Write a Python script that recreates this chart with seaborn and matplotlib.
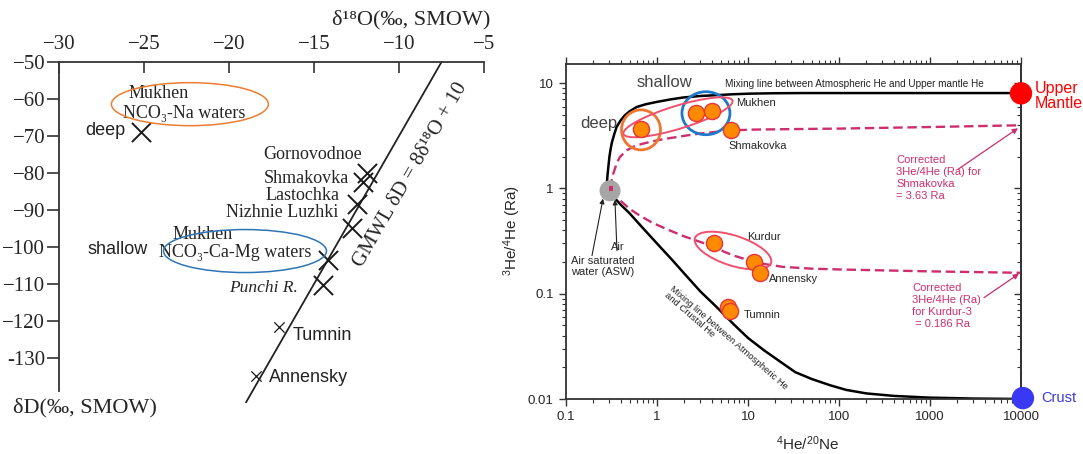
import numpy as np
import pandas as pd
import matplotlib
matplotlib.use("Agg")
import matplotlib.pyplot as plt
import seaborn as sns
from matplotlib.patches import Ellipse
from matplotlib.transforms import ScaledTranslation
from matplotlib.ticker import NullFormatter

# ---------------- data: left panel (dD vs d18O) ----------------
big_d18O = [-25.2, -11.9, -12.1, -12.45, -12.75, -14.2, -14.45]
big_dD = [-69.0, -80.0, -82.5, -88.5, -95.0, -103.5, -110.3]
small_d18O = [-17.05, -18.4]
small_dD = [-121.6, -135.0]
gmwl_d18O = [-19.0, -7.5]
gmwl_dD = [-142.0, -50.0]
left_xticks = [-30, -25, -20, -15, -10, -5]
left_yticks = [-130, -120, -110, -100, -90, -80, -70, -60, -50]
left_ylabels = ["-130", "\u2212120", "\u2212110", "\u2212100", "\u221290",
                "\u221280", "\u221270", "\u221260", "\u221250"]

# ---------------- data: right panel (3He/4He vs 4He/20Ne) ----------------
site_he_ne = [0.667, 2.68, 4.02, 6.5, 4.23, 11.6, 13.5, 6.0, 6.3]
site_ra = [3.65, 5.18, 5.4, 3.56, 0.30, 0.20, 0.158, 0.075, 0.069]

# curves
mantle_mix_x = [0.28, 0.285, 0.292, 0.30, 0.31, 0.32, 0.34, 0.36, 0.40, 0.445, 0.5, 0.6,
                0.75, 1.0, 1.4, 1.95, 3.0, 4.5, 7.0, 10.5, 20, 40, 10000]
mantle_mix_y = [1.03, 1.3, 1.6, 2.0, 2.4, 2.75, 3.3, 3.84, 4.45, 4.96, 5.4, 5.94,
                6.3, 6.64, 7.0, 7.31, 7.55, 7.69, 7.85, 7.95, 8.02, 8.05, 8.05]

crust_mix_x = [0.30, 0.33, 0.4, 0.5, 0.7, 1.0, 1.5, 2.0, 3.0, 4.5, 7.0, 10, 15, 22, 33,
               50, 80, 120, 200, 400, 1000, 3000, 10000]
crust_mix_y = [0.97, 0.84, 0.70, 0.58, 0.42, 0.30, 0.205, 0.155, 0.105, 0.075, 0.051,
               0.038, 0.029, 0.023, 0.018, 0.0155, 0.0135, 0.0122, 0.0113, 0.0107,
               0.0103, 0.0101, 0.0100]

shm_corr_x = [0.305, 0.31, 0.318, 0.33, 0.345, 0.365, 0.392, 0.43, 0.464, 0.53, 0.6, 0.75,
              0.91, 1.2, 1.51, 2.1, 2.96, 4.2, 5.8, 8.0, 11.4, 30, 100, 1000, 10000]
shm_corr_y = [1.0, 1.1, 1.19, 1.37, 1.54, 1.78, 1.99, 2.16, 2.30, 2.45, 2.57, 2.70,
              2.81, 2.95, 3.04, 3.18, 3.32, 3.43, 3.52, 3.58, 3.62, 3.66, 3.70, 3.83, 3.98]

kur_corr_x = [0.31, 0.34, 0.4, 0.5, 0.65, 0.9, 1.28, 2.0, 3.0, 4.2, 5.5, 7.0, 9.0, 11.6,
              16, 24, 50, 100, 1000, 10000]
kur_corr_y = [0.95, 0.86, 0.76, 0.64, 0.55, 0.47, 0.41, 0.35, 0.31, 0.28, 0.25, 0.23,
              0.215, 0.20, 0.19, 0.18, 0.173, 0.17, 0.163, 0.158]

air_x, air_y = [0.305], [0.95]
mantle_x, mantle_y = [10000], [8.0]
crust_x, crust_y = [10500], [0.0102]

right_xticks = [0.1, 1, 10, 100, 1000, 10000]
right_xlabels = ["0.1", "1", "10", "100", "1000", "10000"]
right_yticks = [0.01, 0.1, 1, 10]
right_ylabels = ["0.01", "0.1", "1", "10"]

DPI = 100
sns.set_style("ticks")
plt.rcParams["font.family"] = ["Liberation Sans", "DejaVu Sans"]
plt.rcParams["mathtext.default"] = "regular"

SERIF = ["Liberation Serif", "DejaVu Serif"]
SANS = ["Liberation Sans", "DejaVu Sans"]
MAG = "#CC2E6E"
PINK = "#F0506E"

fig = plt.figure(figsize=(10.83, 4.54), dpi=DPI)


def ring(ax, x, y, w, h, angle, color, lw):
    # ellipse sized in pixels, centred on a data point
    tr = fig.dpi_scale_trans + ScaledTranslation(x, y, ax.transData)
    ax.add_patch(Ellipse((0, 0), w / DPI, h / DPI, angle=angle, transform=tr,
                         fill=False, edgecolor=color, lw=lw, clip_on=False, zorder=4))


# =============== left panel ===============
ax1 = fig.add_axes([59 / 1083, 52 / 454, 425 / 1083, 340 / 454])
ax1.set_xlim(-30, -5)
ax1.set_ylim(-141.9, -50)
for s in ["right", "bottom"]:
    ax1.spines[s].set_visible(False)
for s in ["top", "left"]:
    ax1.spines[s].set_color("#333333")
    ax1.spines[s].set_linewidth(1.3)
ax1.spines["left"].set_bounds(-139, -50)

sns.lineplot(x=gmwl_d18O, y=gmwl_dD, ax=ax1, color="#222222", lw=1.3, sort=False, clip_on=False)
sns.scatterplot(x=big_d18O, y=big_dD, ax=ax1, marker="x", s=190, color="#1a1a1a", linewidth=1.4, zorder=3)
sns.scatterplot(x=small_d18O, y=small_dD, ax=ax1, marker="x", s=55, color="#1a1a1a", linewidth=0.9, zorder=3)

ax1.xaxis.tick_top()
ax1.set_xticks(left_xticks)
ax1.set_yticks(left_yticks)
ax1.set_yticklabels(left_ylabels)
ax1.tick_params(axis="x", direction="in", length=8, width=1.2, color="#333333",
                top=True, bottom=False, labeltop=True, labelbottom=False, pad=6, labelsize=15)
ax1.tick_params(axis="y", direction="out", length=9, width=1.2, color="#333333", pad=1, labelsize=15)
for lbl in ax1.get_xticklabels() + ax1.get_yticklabels():
    lbl.set_fontfamily(SERIF)
ax1.set_xlabel("")
ax1.set_ylabel("")

fig.text(411 / 1083, 1 - 20 / 454, "\u03b4\u00b9\u2078O(\u2030, SMOW)", family=SERIF, fontsize=16,
         ha="center", va="center")
fig.text(85 / 1083, 1 - 408 / 454, "\u03b4D(\u2030, SMOW)", family=SERIF, fontsize=16,
         ha="center", va="center")

ax1.text(-9.35, -80.5, "GMWL \u03b4D = 8\u03b4\u00b9\u2078O + 10", family=SERIF, fontsize=15,
         rotation=60, rotation_mode="anchor", ha="center", va="center")

ax1.text(-12.18, -75.1, "Gornovodnoe", family=SERIF, fontsize=13, ha="right", va="center")
ax1.text(-12.94, -81.4, "Shmakovka", family=SERIF, fontsize=13, ha="right", va="center")
ax1.text(-13.47, -86.2, "Lastochka", family=SERIF, fontsize=13, ha="right", va="center")
ax1.text(-13.59, -90.8, "Nizhnie Luzhki", family=SERIF, fontsize=13, ha="right", va="center")
ax1.text(-25.94, -58.4, "Mukhen", family=SERIF, fontsize=13, ha="left", va="center")
ax1.text(-26.24, -63.8, "NCO\u2083-Na waters", family=SERIF, fontsize=13, ha="left", va="center")
ax1.text(-23.3, -96.5, "Mukhen", family=SERIF, fontsize=13, ha="left", va="center")
ax1.text(-24.1, -101.6, "NCO\u2083-Ca-Mg waters", family=SERIF, fontsize=13, ha="left", va="center")
ax1.text(-15.94, -111.1, "Punchi R.", family=SERIF, fontsize=12.5, style="italic", ha="right", va="center")
ax1.text(-26.1, -68.4, "deep", family=SANS, fontsize=13, ha="right", va="center", color="#222222")
ax1.text(-24.76, -100.8, "shallow", family=SANS, fontsize=13, ha="right", va="center", color="#222222")
ax1.text(-16.24, -124.0, "Tumnin", family=SANS, fontsize=13, ha="left", va="center", color="#222222")
ax1.text(-17.65, -135.4, "Annensky", family=SANS, fontsize=13, ha="left", va="center", color="#222222")

ring(ax1, -22.3, -61.4, 157, 43, 0, "#ED7D31", 1.1)
ring(ax1, -19.06, -101.1, 163, 43, 0, "#2E75B6", 1.1)

# =============== right panel ===============
ax2 = fig.add_axes([566 / 1083, 55 / 454, 455 / 1083, 335 / 454])
ax2.set_xscale("log")
ax2.set_yscale("log")
ax2.set_xlim(0.1, 10000)
ax2.set_ylim(0.01, 15.2)
for s in ax2.spines.values():
    s.set_color("#333333")
    s.set_linewidth(1.3)

sns.lineplot(x=mantle_mix_x, y=mantle_mix_y, ax=ax2, color="black", lw=1.8, sort=False, zorder=2)
sns.lineplot(x=crust_mix_x, y=crust_mix_y, ax=ax2, color="black", lw=1.8, sort=False, zorder=2)
sns.lineplot(x=shm_corr_x, y=shm_corr_y, ax=ax2, color=MAG, lw=1.7, sort=False,
             linestyle=(0, (4, 2)), zorder=2)
sns.lineplot(x=kur_corr_x, y=kur_corr_y, ax=ax2, color=MAG, lw=1.7, sort=False,
             linestyle=(0, (4, 2)), zorder=2)

sns.scatterplot(x=air_x, y=air_y, ax=ax2, s=230, color="#A6A6A6", edgecolor="none", zorder=3, clip_on=False)
sns.scatterplot(x=[0.31], y=[1.0], ax=ax2, marker="s", s=10, color=MAG, edgecolor="none", zorder=4)
sns.scatterplot(x=site_he_ne, y=site_ra, ax=ax2, s=135, color="#FF8A00", edgecolor="#E8343A",
                linewidth=1.0, zorder=5)
sns.scatterplot(x=mantle_x, y=mantle_y, ax=ax2, s=260, color="#FF0000", edgecolor="none",
                zorder=6, clip_on=False)
sns.scatterplot(x=crust_x, y=crust_y, ax=ax2, s=260, color="#3838F5", edgecolor="none",
                zorder=6, clip_on=False)

ring(ax2, 0.667, 3.6, 39, 40, 0, "#EE7730", 2.0)
ring(ax2, 3.45, 5.18, 48, 43, 0, "#1F78C8", 2.0)
ring(ax2, 1.70, 4.74, 114, 23, 17, PINK, 1.4)
ring(ax2, 6.84, 0.257, 80, 30, -18, PINK, 1.4)

ax2.set_xticks(right_xticks)
ax2.set_xticklabels(right_xlabels)
ax2.set_yticks(right_yticks)
ax2.set_yticklabels(right_ylabels)
ax2.xaxis.set_minor_formatter(NullFormatter())
ax2.yaxis.set_minor_formatter(NullFormatter())
ax2.tick_params(which="major", direction="out", length=5, width=1.0, color="#333333", labelsize=9.5, pad=4)
ax2.tick_params(which="minor", direction="out", length=3, width=0.8, color="#333333")
ax2.tick_params(which="both", top=True, right=False)
sec = ax2.secondary_yaxis("right")
sec.tick_params(which="major", direction="in", length=5, width=1.0, color="#333333", labelright=False)
sec.tick_params(which="minor", direction="in", length=3, width=0.8, color="#333333", labelright=False)
sec.spines["right"].set_color("#333333")
sec.spines["right"].set_linewidth(1.3)

ax2.set_xlabel("$^{4}$He/$^{20}$Ne", fontsize=11)
ax2.set_ylabel("$^{3}$He/$^{4}$He (Ra)", fontsize=11)
ax2.xaxis.set_label_coords(0.532, -0.105)
ax2.yaxis.set_label_coords(-0.095, 0.504)

ax2.text(1.22, 10.2, "shallow", fontsize=12, color="#444444", ha="center", va="center")
ax2.text(0.231, 4.16, "deep", fontsize=12, color="#444444", ha="center", va="center")
ax2.text(5.58, 9.78, "Mixing line between Atmospheric He and Upper mantle He", fontsize=7.2,
         ha="left", va="center", color="#222222")
ax2.text(7.38, 6.45, "Mukhen", fontsize=8, ha="left", va="center")
ax2.text(6.18, 2.51, "Shmakovka", fontsize=8, ha="left", va="center")
ax2.text(9.75, 0.349, "Kurdur", fontsize=8, ha="left", va="center")
ax2.text(17.0, 0.139, "Annensky", fontsize=8, ha="left", va="center")
ax2.text(9.04, 0.063, "Tumnin", fontsize=8, ha="left", va="center")
ax2.text(0.372, 0.28, "Air", fontsize=8, ha="center", va="center")
ax2.text(0.255, 0.181, "Air saturated\nwater (ASW)", fontsize=8, ha="center", va="center",
         linespacing=1.1)
ax2.text(5.73, 0.0357, "Mixing line between Atmospheric He\nand Crustal He", fontsize=6.8,
         rotation=-41, rotation_mode="anchor", ha="center", va="center", multialignment="left",
         linespacing=1.0, color="#222222")
ax2.text(423, 2.06, "Corrected\n3He/4He (Ra) for\nShmakovka\n= 3.63 Ra", fontsize=8, color=MAG,
         ha="left", va="top", linespacing=1.25)
ax2.text(634, 0.127, "Corrected\n3He/4He (Ra)\nfor Kurdur-3\n = 0.186 Ra", fontsize=8, color=MAG,
         ha="left", va="top", linespacing=1.25)
ax2.text(14260, 7.52, "Upper\nMantle", fontsize=11.5, color="#FF0000", ha="left", va="center",
         linespacing=1.05)
ax2.text(16600, 0.0102, "Crust", fontsize=10.5, color="#3B3BD8", ha="left", va="center")

arrow = dict(arrowstyle="-|>", color="#222222", lw=0.8, mutation_scale=7, shrinkA=0, shrinkB=0)
ax2.annotate("", xy=(0.255, 0.80), xytext=(0.193, 0.23), arrowprops=arrow)
ax2.annotate("", xy=(0.345, 0.78), xytext=(0.363, 0.257), arrowprops=arrow)
arrow_m = dict(arrowstyle="-|>", color=MAG, lw=0.9, mutation_scale=8, shrinkA=0, shrinkB=0)
ax2.annotate("", xy=(9270, 3.73), xytext=(2030, 1.52), arrowprops=arrow_m)
ax2.annotate("", xy=(9500, 0.155), xytext=(3920, 0.0917), arrowprops=arrow_m)

fig.savefig("out.png", dpi=DPI, facecolor="white")
